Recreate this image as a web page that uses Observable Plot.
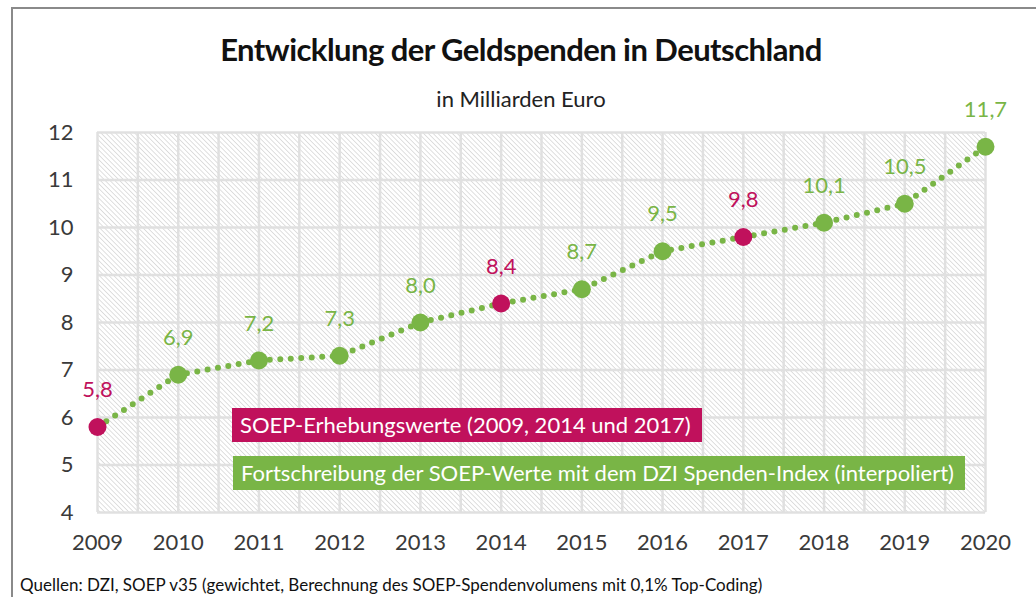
<!DOCTYPE html>
<html>
<head>
<meta charset="utf-8">
<script src="https://cdn.jsdelivr.net/npm/d3@7"></script>
<script src="https://cdn.jsdelivr.net/npm/@observablehq/plot@0.6"></script>
<style>
  html, body { margin: 0; padding: 0; background: #fff; }
  body { width: 1036px; height: 597px; position: relative; overflow: hidden; font-family: Lato, "Open Sans", sans-serif; }
  #frame { position: absolute; left: 11px; top: 7px; width: 1040px; height: 600px; border-left: 2px solid #8a8a8a; border-top: 2px solid #8a8a8a; }
  #title { position: absolute; left: 0; width: 1042px; top: 30px; text-align: center; font-size: 31px; font-weight: 700; color: #111; letter-spacing: -0.55px; }
  #subtitle { position: absolute; left: 0; width: 1042px; top: 85px; text-align: center; font-size: 22px; color: #222; }
  #chart { position: absolute; left: 0; top: 100px; }
  #chart svg { background: transparent; overflow: visible; }
  .legend { position: absolute; color: #fff; font-size: 22px; line-height: 34px; padding-left: 8px; box-sizing: border-box; white-space: nowrap; }
  #leg1 { left: 232px; top: 408px; width: 470px; height: 34px; background: #c0115c; }
  #leg2 { left: 233px; top: 456px; width: 732px; height: 34px; background: #79b546; }
  #caption { position: absolute; left: 20px; top: 574px; font-size: 17px; color: #111; }
</style>
</head>
<body>
<svg width="0" height="0" style="position:absolute">
  <defs>
    <pattern id="hatch" width="3.4" height="3.4" patternUnits="userSpaceOnUse" patternTransform="rotate(-45)">
      <rect width="3.4" height="3.4" fill="#ffffff"></rect>
      <line x1="0" y1="0" x2="0" y2="3.4" stroke="#c6c6c6" stroke-width="1.1"></line>
    </pattern>
  </defs>
</svg>
<div id="frame"></div>
<div id="title">Entwicklung der Geldspenden in Deutschland</div>
<div id="subtitle">in Milliarden Euro</div>
<div id="chart"></div>
<div class="legend" id="leg1">SOEP-Erhebungswerte (2009, 2014 und 2017)</div>
<div class="legend" id="leg2">Fortschreibung der SOEP-Werte mit dem DZI Spenden-Index (interpoliert)</div>
<div id="caption">Quellen: DZI, SOEP v35 (gewichtet, Berechnung des SOEP-Spendenvolumens mit 0,1% Top-Coding)</div>
<script>
const years = [2009, 2010, 2011, 2012, 2013, 2014, 2015, 2016, 2017, 2018, 2019, 2020];
const values = [5.8, 6.9, 7.2, 7.3, 8.0, 8.4, 8.7, 9.5, 9.8, 10.1, 10.5, 11.7];
const sources = ["SOEP", "DZI", "DZI", "DZI", "DZI", "SOEP", "DZI", "DZI", "SOEP", "DZI", "DZI", "DZI"];
const yTicks = [4, 5, 6, 7, 8, 9, 10, 11, 12];
const xGrid = d3.range(2009, 2020.01, 0.5);

const GREEN = "#79b546";
const MAGENTA = "#c0115c";
const data = years.map((year, i) => ({ year, value: values[i], source: sources[i] }));
const colorOf = d => d.source === "SOEP" ? MAGENTA : GREEN;
const fmt = v => v.toFixed(1).replace(".", ",");

const plot = Plot.plot({
  width: 1036,
  height: 465,
  marginTop: 32,
  marginBottom: 53,
  marginLeft: 97,
  marginRight: 51,
  style: { fontFamily: "Lato, 'Open Sans', sans-serif", fontSize: "22px", color: "#3a3a3a", background: "transparent" },
  x: { domain: [2009, 2020] },
  y: { domain: [4, 12] },
  marks: [
    Plot.frame({ fill: "url(#hatch)", stroke: null }),
    Plot.gridX(xGrid, { stroke: "#e0e0e0", strokeWidth: 2.5, strokeOpacity: 1 }),
    Plot.gridY(yTicks, { stroke: "#e0e0e0", strokeWidth: 2.5, strokeOpacity: 1 }),
    Plot.axisX({ ticks: years, tickSize: 0, tickPadding: 22, tickFormat: d => String(d), label: null, fontSize: 22 }),
    Plot.axisY({ ticks: yTicks, tickSize: 0, tickPadding: 24, label: null, fontSize: 22 }),
    Plot.line(data, { x: "year", y: "value", stroke: GREEN, strokeWidth: 6, strokeDasharray: "0 10.5", strokeLinecap: "round" }),
    Plot.dot(data, { x: "year", y: "value", r: 9, fill: colorOf, stroke: null }),
    Plot.text(data, { x: "year", y: "value", text: d => fmt(d.value), fill: colorOf, dy: -37, fontSize: 22 })
  ]
});
document.getElementById("chart").appendChild(plot);
</script>
</body>
</html>
